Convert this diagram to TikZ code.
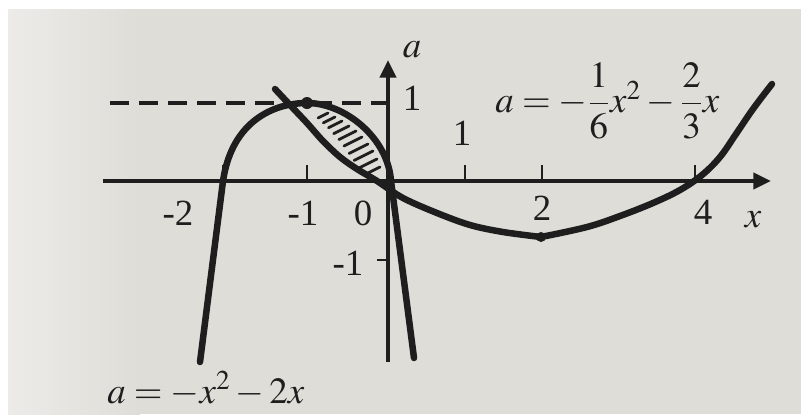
\documentclass[tikz,border=0pt]{standalone}
\usepackage{amsmath}
\usepackage{mathptmx}
\usepackage[no-math]{fontspec}
\setmainfont{Liberation Serif}
\usetikzlibrary{arrows.meta}
\definecolor{paper}{RGB}{222,221,216}
\definecolor{paperlight}{RGB}{236,235,231}
\definecolor{ink}{RGB}{30,30,30}
\begin{document}
\begin{tikzpicture}[x=0.02cm,y=-0.02cm,
  axisline/.style={draw=ink,line width=2.6pt,-{Triangle[length=10pt,width=9pt]}},
  curveline/.style={draw=ink,line width=3.7pt,line cap=round,line join=round},
  tickline/.style={draw=ink,line width=1.4pt},
  hatchline/.style={draw=ink,line width=1.6pt,line cap=round},
  dashline/.style={draw=ink,line width=2.8pt,dash pattern=on 11pt off 5.5pt},
  lbl/.style={font=\fontsize{21}{25}\selectfont,text=ink,inner sep=0pt},
  dotmark/.style={fill=ink}]
\useasboundingbox (0,0) rectangle (801,414);
\fill[white] (0,0) rectangle (801,414);
\fill[paper] (8,9) rectangle (801,414);
\shade[left color=paperlight,right color=paper] (8,9) rectangle (140,414);

% axes
\coordinate (xs) at (103,181);
\coordinate (xe) at (771,181);
\coordinate (ys) at (388,362);
\coordinate (ye) at (388,60);
\draw[axisline] (xs) -- (xe);
\draw[axisline] (ys) -- (ye);

% ticks on x axis
\foreach \xx in {223,307,465,542,695} \draw[tickline] (\xx,181) -- (\xx,165);
% ticks on a axis
\draw[tickline] (377,260) -- (388,260);
\draw[tickline] (378,102) -- (388,102);

% dashed line a=1
\coordinate (ds) at (110,103);
\coordinate (de) at (386,103);
\draw[dashline] (ds) -- (de);

% hatching
\foreach \rx/\ry/\l in {328/113/0.55,335/117/0.65,342/121/0.75,349/126/0.85,356/131/0.95,362/137/1.0,368/144/1.05,373/151/1.05,377/159/1.0,380/167/0.8}
  \draw[hatchline] (\rx-18*\l,\ry+9*\l) -- (\rx,\ry);

% parabola a=-x^2-2x
\draw[curveline] (200,362) -- (223,181)
  .. controls (232,120) and (275,103) .. (307,103)
  .. controls (345,103) and (388,138) .. (391,181) -- (414,358);

% curve a = -1/6 x^2 - 2/3 x
\draw[curveline] plot[smooth,tension=0.55] coordinates {(275,89) (290,105) (307,123) (323,141) (340,157) (357,169) (377,181) (403,198) (437,213) (470,225) (503,232) (541,237)};
\draw[curveline] plot[smooth,tension=0.6] coordinates {(541,237) (587,227) (620,216) (653,203) (680,190) (702,175) (720,157) (736,134) (753,109) (772,84)};

% points
\fill[dotmark] (307,103) circle (6);
\fill[dotmark] (541,237) circle (5);

% labels
\node[lbl] (la) at (412,50) {$a$};
\node[lbl] (ly1) at (412,98) {1};
\node[lbl] (lx1) at (462,133) {1};
\node[lbl] (lxm2) at (178,213) {-2};
\node[lbl] (lxm1) at (303,213) {-1};
\node[lbl] (l0) at (363,213) {0};
\node[lbl] (lym1) at (348,263) {-1};
\node[lbl] (lx2) at (542,208) {2};
\node[lbl] (lx4) at (703,212) {4};
\node[lbl] (lx) at (753,220) {$x$};
\node[lbl,anchor=west] (eq1) at (495,101) {$a=-\dfrac{1}{6}x^2-\dfrac{2}{3}x$};
\node[lbl,anchor=base west] (eq2) at (107,403) {$a=-x^2-2x$};
\end{tikzpicture}
\end{document}
